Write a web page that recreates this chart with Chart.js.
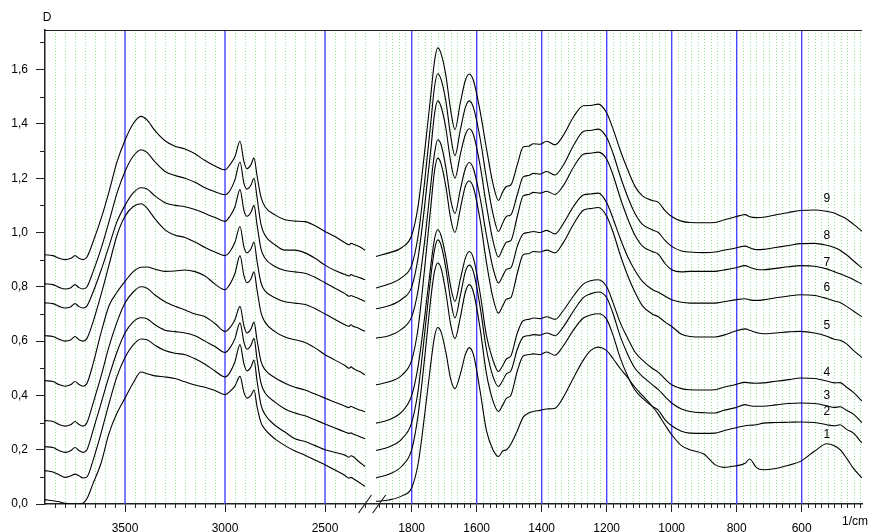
<!DOCTYPE html>
<html>
<head>
<meta charset="utf-8">
<script src="https://cdn.jsdelivr.net/npm/chart.js@4"></script>
<style>
  html, body { margin: 0; padding: 0; background: #fff; }
  #wrap { width: 870px; height: 532px; position: relative; }
</style>
</head>
<body>
<div id="wrap"><canvas id="irChart"></canvas></div>
<script>
// wavenumbers (1/cm) of the sampled points, high -> low
const leftWavenumbers = [3900, 3860, 3830, 3800, 3770, 3750, 3730, 3710, 3690, 3660, 3620, 3580, 3540, 3500, 3460, 3420, 3390, 3350, 3300, 3250, 3200, 3150, 3100, 3050, 3000, 2975, 2950, 2925, 2905, 2890, 2870, 2855, 2840, 2820, 2800, 2750, 2700, 2650, 2600, 2550, 2500, 2450, 2400, 2380, 2370, 2360, 2340, 2320, 2300];
const rightWavenumbers = [1910, 1870, 1830, 1800, 1780, 1760, 1740, 1730, 1720, 1710, 1695, 1680, 1667, 1650, 1635, 1623, 1610, 1590, 1570, 1550, 1533, 1520, 1508, 1495, 1475, 1457, 1440, 1426, 1405, 1385, 1359, 1335, 1300, 1272, 1250, 1226, 1200, 1180, 1159, 1135, 1113, 1090, 1060, 1041, 1020, 1000, 970, 944, 900, 867, 840, 806, 774, 760, 740, 718, 680, 640, 604, 560, 523, 500, 482, 462, 440, 415];

// absorbance D, spectra 1..9
const spectrum1Left = [0.016, 0.012, 0.008, 0.003, 0.0, 0.0, 0.0, 0.003, 0.02, 0.075, 0.15, 0.26, 0.335, 0.39, 0.445, 0.486, 0.48, 0.472, 0.468, 0.462, 0.45, 0.438, 0.43, 0.418, 0.403, 0.415, 0.435, 0.47, 0.41, 0.39, 0.40, 0.42, 0.36, 0.30, 0.275, 0.24, 0.215, 0.195, 0.18, 0.162, 0.145, 0.125, 0.105, 0.095, 0.098, 0.094, 0.085, 0.075, 0.065];
const spectrum1Right = [0.01, 0.015, 0.03, 0.06, 0.15, 0.33, 0.53, 0.615, 0.65, 0.635, 0.56, 0.46, 0.425, 0.48, 0.55, 0.576, 0.55, 0.42, 0.27, 0.20, 0.175, 0.195, 0.20, 0.22, 0.27, 0.32, 0.335, 0.341, 0.345, 0.35, 0.353, 0.39, 0.47, 0.53, 0.565, 0.578, 0.565, 0.535, 0.50, 0.465, 0.43, 0.40, 0.36, 0.33, 0.29, 0.255, 0.215, 0.2, 0.183, 0.145, 0.135, 0.14, 0.15, 0.166, 0.135, 0.126, 0.131, 0.143, 0.157, 0.195, 0.222, 0.215, 0.2, 0.169, 0.13, 0.096];

const spectrum2Left = [0.123, 0.118, 0.108, 0.098, 0.104, 0.11, 0.104, 0.096, 0.10, 0.16, 0.26, 0.37, 0.47, 0.54, 0.585, 0.608, 0.605, 0.585, 0.565, 0.555, 0.55, 0.535, 0.515, 0.49, 0.468, 0.485, 0.525, 0.587, 0.515, 0.49, 0.505, 0.53, 0.455, 0.365, 0.33, 0.29, 0.265, 0.24, 0.23, 0.215, 0.2, 0.19, 0.18, 0.172, 0.178, 0.175, 0.162, 0.15, 0.138];
const spectrum2Right = [0.096, 0.11, 0.14, 0.20, 0.33, 0.54, 0.77, 0.855, 0.888, 0.87, 0.78, 0.66, 0.609, 0.69, 0.78, 0.808, 0.78, 0.65, 0.48, 0.38, 0.341, 0.365, 0.39, 0.40, 0.49, 0.545, 0.55, 0.553, 0.55, 0.56, 0.548, 0.58, 0.645, 0.685, 0.696, 0.701, 0.68, 0.62, 0.54, 0.47, 0.42, 0.39, 0.36, 0.345, 0.31, 0.288, 0.268, 0.261, 0.26, 0.261, 0.27, 0.28, 0.288, 0.29, 0.292, 0.298, 0.30, 0.301, 0.302, 0.30, 0.292, 0.288, 0.292, 0.275, 0.26, 0.225];

const spectrum3Left = [0.211, 0.208, 0.197, 0.19, 0.197, 0.208, 0.197, 0.19, 0.20, 0.27, 0.37, 0.47, 0.56, 0.63, 0.67, 0.686, 0.682, 0.66, 0.64, 0.635, 0.63, 0.62, 0.60, 0.58, 0.558, 0.575, 0.61, 0.667, 0.595, 0.57, 0.585, 0.61, 0.535, 0.445, 0.41, 0.375, 0.35, 0.335, 0.325, 0.31, 0.295, 0.28, 0.265, 0.26, 0.262, 0.258, 0.252, 0.246, 0.24];
const spectrum3Right = [0.197, 0.21, 0.24, 0.30, 0.42, 0.63, 0.85, 0.935, 0.973, 0.955, 0.87, 0.75, 0.685, 0.77, 0.855, 0.88, 0.855, 0.73, 0.57, 0.47, 0.433, 0.455, 0.48, 0.49, 0.57, 0.615, 0.62, 0.624, 0.622, 0.63, 0.62, 0.65, 0.715, 0.76, 0.774, 0.781, 0.76, 0.70, 0.62, 0.55, 0.50, 0.47, 0.44, 0.421, 0.395, 0.372, 0.35, 0.341, 0.336, 0.335, 0.345, 0.354, 0.366, 0.362, 0.36, 0.36, 0.365, 0.37, 0.372, 0.37, 0.362, 0.356, 0.358, 0.345, 0.33, 0.30];

const spectrum4Left = [0.307, 0.304, 0.293, 0.287, 0.293, 0.304, 0.293, 0.287, 0.30, 0.37, 0.47, 0.58, 0.67, 0.74, 0.78, 0.80, 0.795, 0.77, 0.745, 0.728, 0.715, 0.70, 0.69, 0.665, 0.636, 0.65, 0.68, 0.728, 0.655, 0.63, 0.645, 0.67, 0.605, 0.525, 0.495, 0.465, 0.445, 0.43, 0.42, 0.405, 0.39, 0.375, 0.36, 0.355, 0.36, 0.356, 0.35, 0.345, 0.34];
const spectrum4Right = [0.298, 0.31, 0.34, 0.40, 0.51, 0.69, 0.89, 0.975, 1.01, 0.99, 0.91, 0.80, 0.746, 0.83, 0.905, 0.93, 0.905, 0.78, 0.62, 0.53, 0.488, 0.51, 0.535, 0.545, 0.63, 0.675, 0.68, 0.685, 0.683, 0.69, 0.68, 0.71, 0.77, 0.81, 0.822, 0.826, 0.80, 0.74, 0.67, 0.61, 0.56, 0.53, 0.50, 0.485, 0.46, 0.439, 0.425, 0.421, 0.42, 0.421, 0.43, 0.439, 0.448, 0.446, 0.445, 0.446, 0.452, 0.458, 0.464, 0.462, 0.453, 0.446, 0.447, 0.43, 0.41, 0.38];

const spectrum5Left = [0.454, 0.451, 0.44, 0.434, 0.44, 0.451, 0.44, 0.434, 0.445, 0.515, 0.63, 0.73, 0.78, 0.82, 0.855, 0.872, 0.873, 0.865, 0.857, 0.858, 0.862, 0.856, 0.84, 0.81, 0.789, 0.81, 0.85, 0.915, 0.84, 0.815, 0.83, 0.855, 0.79, 0.705, 0.67, 0.635, 0.615, 0.605, 0.595, 0.575, 0.55, 0.53, 0.51, 0.50, 0.505, 0.50, 0.492, 0.485, 0.476];
const spectrum5Right = [0.439, 0.45, 0.475, 0.53, 0.65, 0.87, 1.11, 1.225, 1.274, 1.255, 1.17, 1.05, 1.0, 1.09, 1.17, 1.19, 1.165, 1.05, 0.89, 0.76, 0.703, 0.73, 0.755, 0.76, 0.85, 0.918, 0.922, 0.93, 0.928, 0.935, 0.925, 0.96, 1.035, 1.082, 1.088, 1.092, 1.06, 1.0, 0.92, 0.84, 0.78, 0.73, 0.70, 0.69, 0.67, 0.654, 0.625, 0.617, 0.615, 0.615, 0.622, 0.636, 0.645, 0.64, 0.632, 0.627, 0.63, 0.634, 0.636, 0.63, 0.618, 0.607, 0.603, 0.59, 0.565, 0.54];

const spectrum6Left = [0.62, 0.617, 0.607, 0.60, 0.605, 0.617, 0.605, 0.60, 0.61, 0.67, 0.77, 0.88, 0.99, 1.06, 1.095, 1.106, 1.09, 1.05, 1.01, 0.99, 0.982, 0.965, 0.945, 0.928, 0.915, 0.93, 0.965, 1.022, 0.945, 0.925, 0.94, 0.965, 0.895, 0.815, 0.785, 0.76, 0.745, 0.74, 0.735, 0.72, 0.70, 0.68, 0.66, 0.655, 0.66, 0.655, 0.65, 0.643, 0.636];
const spectrum6Right = [0.611, 0.62, 0.645, 0.69, 0.79, 0.97, 1.19, 1.29, 1.342, 1.325, 1.24, 1.12, 1.07, 1.16, 1.235, 1.258, 1.235, 1.13, 0.99, 0.87, 0.814, 0.84, 0.865, 0.87, 0.95, 0.995, 1.0, 1.004, 1.0, 1.008, 0.995, 1.03, 1.10, 1.138, 1.142, 1.145, 1.11, 1.05, 0.98, 0.91, 0.86, 0.82, 0.79, 0.78, 0.765, 0.752, 0.743, 0.740, 0.740, 0.740, 0.745, 0.752, 0.756, 0.752, 0.75, 0.752, 0.76, 0.766, 0.771, 0.768, 0.757, 0.748, 0.742, 0.728, 0.71, 0.69];

const spectrum7Left = [0.741, 0.738, 0.728, 0.722, 0.727, 0.738, 0.727, 0.722, 0.73, 0.78, 0.86, 0.95, 1.04, 1.10, 1.145, 1.165, 1.16, 1.135, 1.11, 1.10, 1.095, 1.085, 1.07, 1.055, 1.041, 1.06, 1.095, 1.158, 1.08, 1.06, 1.075, 1.10, 1.03, 0.94, 0.905, 0.875, 0.86, 0.855, 0.85, 0.835, 0.815, 0.795, 0.775, 0.765, 0.768, 0.765, 0.76, 0.753, 0.746];
const spectrum7Right = [0.719, 0.73, 0.755, 0.80, 0.91, 1.10, 1.32, 1.435, 1.485, 1.465, 1.385, 1.26, 1.20, 1.29, 1.36, 1.382, 1.36, 1.25, 1.10, 0.97, 0.91, 0.94, 0.965, 0.97, 1.06, 1.135, 1.14, 1.148, 1.145, 1.152, 1.14, 1.17, 1.245, 1.288, 1.292, 1.296, 1.27, 1.21, 1.13, 1.05, 0.99, 0.95, 0.93, 0.92, 0.885, 0.863, 0.855, 0.857, 0.857, 0.857, 0.862, 0.869, 0.878, 0.872, 0.865, 0.863, 0.868, 0.874, 0.878, 0.876, 0.866, 0.856, 0.848, 0.838, 0.826, 0.81];

const spectrum8Left = [0.811, 0.808, 0.798, 0.792, 0.797, 0.808, 0.797, 0.792, 0.80, 0.855, 0.94, 1.04, 1.145, 1.225, 1.28, 1.305, 1.295, 1.26, 1.225, 1.21, 1.20, 1.185, 1.165, 1.15, 1.139, 1.155, 1.195, 1.26, 1.18, 1.16, 1.175, 1.20, 1.13, 1.03, 0.99, 0.955, 0.935, 0.935, 0.925, 0.905, 0.88, 0.86, 0.845, 0.84, 0.845, 0.842, 0.837, 0.832, 0.826];
const spectrum8Right = [0.796, 0.81, 0.835, 0.88, 0.99, 1.19, 1.42, 1.535, 1.585, 1.565, 1.485, 1.355, 1.283, 1.38, 1.46, 1.485, 1.46, 1.35, 1.20, 1.07, 1.004, 1.035, 1.06, 1.065, 1.14, 1.205, 1.21, 1.218, 1.215, 1.225, 1.212, 1.245, 1.325, 1.372, 1.376, 1.381, 1.35, 1.29, 1.21, 1.13, 1.07, 1.03, 1.01, 1.0, 0.97, 0.949, 0.932, 0.928, 0.926, 0.928, 0.935, 0.942, 0.95, 0.944, 0.937, 0.938, 0.945, 0.952, 0.959, 0.96, 0.953, 0.945, 0.935, 0.918, 0.895, 0.87];

const spectrum9Left = [0.918, 0.915, 0.905, 0.90, 0.905, 0.915, 0.905, 0.90, 0.91, 0.965, 1.05, 1.15, 1.26, 1.34, 1.40, 1.428, 1.415, 1.375, 1.338, 1.318, 1.308, 1.29, 1.265, 1.245, 1.231, 1.25, 1.28, 1.336, 1.26, 1.235, 1.25, 1.275, 1.21, 1.13, 1.095, 1.065, 1.047, 1.042, 1.04, 1.025, 1.004, 0.985, 0.962, 0.955, 0.96, 0.958, 0.952, 0.945, 0.934];
const spectrum9Right = [0.912, 0.925, 0.945, 0.99, 1.10, 1.30, 1.52, 1.63, 1.68, 1.66, 1.58, 1.45, 1.379, 1.48, 1.56, 1.584, 1.56, 1.45, 1.31, 1.18, 1.118, 1.15, 1.17, 1.175, 1.25, 1.315, 1.318, 1.327, 1.325, 1.336, 1.323, 1.355, 1.43, 1.467, 1.468, 1.473, 1.44, 1.38, 1.305, 1.23, 1.17, 1.135, 1.118, 1.111, 1.08, 1.059, 1.042, 1.037, 1.036, 1.037, 1.046, 1.057, 1.066, 1.058, 1.055, 1.056, 1.065, 1.074, 1.081, 1.083, 1.078, 1.072, 1.062, 1.05, 1.03, 1.005];

const spectrumNames = ['1', '2', '3', '4', '5', '6', '7', '8', '9'];
const labelWavenumber = 523;
const labelLevels = [0.255, 0.341, 0.399, 0.485, 0.657, 0.796, 0.890, 0.989, 1.123];

const xMajorLabels = [3500, 3000, 2500, 1800, 1600, 1400, 1200, 1000, 800, 600];
const yTickValues = [0, 0.1, 0.2, 0.3, 0.4, 0.5, 0.6, 0.7, 0.8, 0.9, 1.0, 1.1, 1.2, 1.3, 1.4, 1.5, 1.6, 1.7];

// broken axis: two linear pieces with different cm-1 per pixel
const leftPos = (wn) => 80 + (3500 - wn) * 0.2;
const rightPos = (wn) => 366.7 + (1800 - wn) * 0.325;

const xTickDefs = [];
for (let wn = 3850; wn >= 2300; wn -= 50) {
  xTickDefs.push({ value: leftPos(wn), major: xMajorLabels.includes(wn), label: xMajorLabels.includes(wn) ? String(wn) : '' });
}
for (let wn = 1900; wn >= 420; wn -= 20) {
  xTickDefs.push({ value: rightPos(wn), major: xMajorLabels.includes(wn), label: xMajorLabels.includes(wn) ? String(wn) : '' });
}
const isMajorY = (v) => Math.round(v * 10) % 2 === 0;

const leftSets = [spectrum1Left, spectrum2Left, spectrum3Left, spectrum4Left, spectrum5Left, spectrum6Left, spectrum7Left, spectrum8Left, spectrum9Left];
const rightSets = [spectrum1Right, spectrum2Right, spectrum3Right, spectrum4Right, spectrum5Right, spectrum6Right, spectrum7Right, spectrum8Right, spectrum9Right];

const datasets = [];
spectrumNames.forEach((name, k) => {
  const style = { borderColor: '#000', borderWidth: 1.1, pointRadius: 0, fill: false, cubicInterpolationMode: 'monotone' };
  datasets.push({ label: name, data: leftWavenumbers.map((wn, i) => ({ x: leftPos(wn), y: leftSets[k][i] })), ...style });
  datasets.push({ label: name, data: rightWavenumbers.map((wn, i) => ({ x: rightPos(wn), y: rightSets[k][i] })), ...style });
});

// vertical grid: green dotted at minor ticks, blue at labelled ticks
const gridPlugin = {
  id: 'grid',
  beforeDatasetsDraw(chart) {
    const { ctx, chartArea: area, scales: { x } } = chart;
    ctx.save();
    ctx.lineWidth = 1;
    ctx.strokeStyle = '#8ee48e';
    ctx.setLineDash([1, 2]);
    ctx.beginPath();
    xTickDefs.forEach((t) => {
      if (t.major) return;
      const px = Math.round(x.getPixelForValue(t.value)) + 0.5;
      ctx.moveTo(px, area.top);
      ctx.lineTo(px, area.bottom);
    });
    ctx.stroke();
    ctx.setLineDash([]);
    ctx.strokeStyle = '#4646ff';
    ctx.lineWidth = 1.4;
    ctx.beginPath();
    xTickDefs.forEach((t) => {
      if (!t.major) return;
      const px = x.getPixelForValue(t.value);
      ctx.moveTo(px, area.top);
      ctx.lineTo(px, area.bottom);
    });
    ctx.stroke();
    ctx.restore();
  }
};

const decorPlugin = {
  id: 'decor',
  afterDraw(chart) {
    const { ctx, chartArea: area, scales } = chart;
    const x = scales.x, y = scales.y;
    ctx.save();
    ctx.strokeStyle = '#222';
    ctx.lineWidth = 1;
    // top frame line
    ctx.beginPath();
    ctx.moveTo(area.left, area.top + 0.5);
    ctx.lineTo(area.right, area.top + 0.5);
    ctx.stroke();
    // short minor ticks
    ctx.beginPath();
    xTickDefs.forEach((t) => {
      if (t.major) return;
      const px = Math.round(x.getPixelForValue(t.value)) + 0.5;
      ctx.moveTo(px, area.bottom);
      ctx.lineTo(px, area.bottom + 4);
    });
    yTickValues.forEach((v) => {
      if (isMajorY(v)) return;
      const py = Math.round(y.getPixelForValue(v)) + 0.5;
      ctx.moveTo(area.left - 5, py);
      ctx.lineTo(area.left, py);
    });
    ctx.stroke();
    // axis break marks
    ctx.lineWidth = 1.2;
    ctx.beginPath();
    [leftPos(2300), rightPos(1900)].forEach((u) => {
      const cx = x.getPixelForValue(u);
      ctx.moveTo(cx - 6.5, area.bottom + 9);
      ctx.lineTo(cx + 6.5, area.bottom - 9);
    });
    ctx.stroke();
    // texts
    ctx.fillStyle = '#000';
    ctx.font = '12px "Liberation Sans", Arial, sans-serif';
    ctx.textAlign = 'center';
    ctx.textBaseline = 'middle';
    ctx.fillText('D', area.left + 2, area.top - 12);
    spectrumNames.forEach((name, k) => {
      ctx.fillText(name, x.getPixelForValue(rightPos(labelWavenumber)), y.getPixelForValue(labelLevels[k]));
    });
    ctx.textAlign = 'right';
    ctx.fillText('1/cm', area.right + 6, area.bottom + 18);
    ctx.restore();
  }
};

Chart.defaults.font.family = '"Liberation Sans", Arial, sans-serif';
Chart.defaults.font.size = 12;
Chart.defaults.color = '#000';

new Chart(document.getElementById('irChart'), {
  type: 'line',
  data: { datasets },
  options: {
    responsive: true,
    maintainAspectRatio: false,
    animation: false,
    events: [],
    layout: { padding: { top: 30, right: 8, left: 0, bottom: 0 } },
    plugins: { legend: { display: false }, tooltip: { enabled: false } },
    scales: {
      x: {
        type: 'linear',
        min: 0,
        max: 817,
        afterBuildTicks: (scale) => { scale.ticks = xTickDefs.map((t) => ({ value: t.value })); },
        afterFit: (scale) => { scale.height = 28; },
        ticks: { autoSkip: false, maxRotation: 0, padding: 9, callback: (v, i) => xTickDefs[i] ? xTickDefs[i].label : '' },
        grid: {
          drawOnChartArea: false,
          tickLength: 8,
          tickColor: (c) => (xTickDefs[c.index] && xTickDefs[c.index].major ? '#222' : 'rgba(0,0,0,0)')
        },
        border: { color: '#222', width: 1.5 }
      },
      y: {
        type: 'linear',
        min: 0,
        max: 1.746,
        afterBuildTicks: (scale) => { scale.ticks = yTickValues.map((v) => ({ value: v })); },
        afterFit: (scale) => { scale.width = 45; },
        ticks: { padding: 8, callback: (v) => (isMajorY(v) ? v.toFixed(1).replace('.', ',') : '') },
        grid: {
          drawOnChartArea: false,
          tickLength: 9,
          tickColor: (c) => (isMajorY(yTickValues[c.index] ?? 1) ? '#222' : 'rgba(0,0,0,0)')
        },
        border: { color: '#222', width: 1.5 }
      }
    }
  },
  plugins: [gridPlugin, decorPlugin]
});
</script>
</body>
</html>
